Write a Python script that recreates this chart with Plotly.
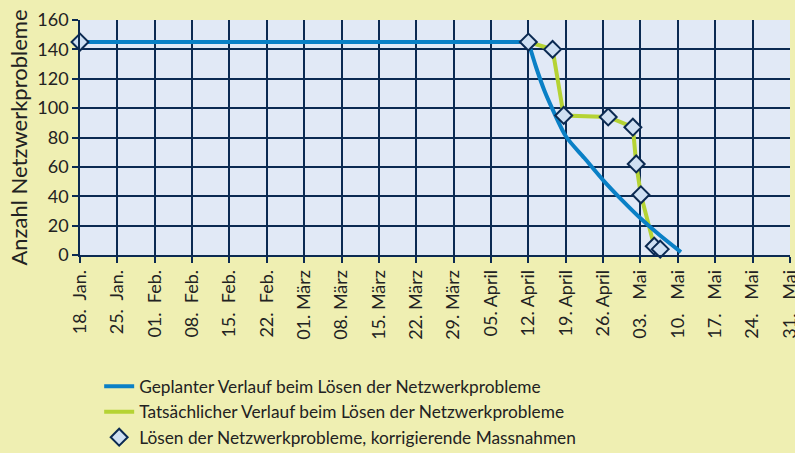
import plotly.graph_objects as go

# ---- data ----
tick_dates = ["2010-01-18", "2010-01-25", "2010-02-01", "2010-02-08", "2010-02-15",
              "2010-02-22", "2010-03-01", "2010-03-08", "2010-03-15", "2010-03-22",
              "2010-03-29", "2010-04-05", "2010-04-12", "2010-04-19", "2010-04-26",
              "2010-05-03", "2010-05-10", "2010-05-17", "2010-05-24", "2010-05-31"]
tick_labels = ["18.\u00a0\u00a0Jan.", "25.\u00a0\u00a0Jan.", "01.\u00a0\u00a0Feb.", "08.\u00a0\u00a0Feb.",
               "15.\u00a0\u00a0Feb.", "22.\u00a0\u00a0Feb.", "01. März", "08. März", "15. März",
               "22. März", "29. März", "05. April", "12. April", "19. April", "26. April",
               "03.\u00a0\u00a0\u00a0Mai", "10.\u00a0\u00a0\u00a0Mai", "17.\u00a0\u00a0\u00a0Mai",
               "24.\u00a0\u00a0\u00a0Mai", "31.\u00a0\u00a0\u00a0Mai"]
y_title = "Anzahl Netzwerkprobleme"

planned_flat_dates = ["2010-01-18", "2010-04-12"]
planned_flat_values = [145, 145]
planned_dates = ["2010-04-12 00:00", "2010-04-13 10:30", "2010-04-15 00:00", "2010-04-16 13:30",
                 "2010-04-19 02:00", "2010-04-22 12:00", "2010-04-26 00:00", "2010-04-29 12:00",
                 "2010-05-03 00:00", "2010-05-06 14:00", "2010-05-10 14:00"]
planned_values = [145, 128, 112, 99, 80.5, 66, 51, 37.5, 25, 13.6, 2]

actual_dates = ["2010-04-12 00:00", "2010-04-16 13:00", "2010-04-18 15:00", "2010-04-26 23:00",
                "2010-05-01 14:00", "2010-05-02 05:00", "2010-05-03 02:00", "2010-05-05 14:00",
                "2010-05-06 17:00"]
actual_values = [145, 140, 95, 94, 87, 62, 41, 6, 4]

marker_dates = ["2010-01-18"] + actual_dates
marker_values = [145] + actual_values

NAVY = "#0b2a52"
BLUE = "#0a80c6"
GREEN = "#b5d334"
TEXT = "#222222"
FONT = "Lato"

fig = go.Figure()
fig.add_trace(go.Scatter(x=planned_flat_dates, y=planned_flat_values, mode="lines",
                         line=dict(color=BLUE, width=4), legendgroup="p", showlegend=False,
                         hoverinfo="skip", cliponaxis=False))
fig.add_trace(go.Scatter(x=actual_dates, y=actual_values, mode="lines",
                         line=dict(color=GREEN, width=4), legendgroup="a", legendrank=2,
                         name="Tatsächlicher Verlauf beim Lösen der Netzwerkprobleme"))
fig.add_trace(go.Scatter(x=planned_dates, y=planned_values, mode="lines",
                         line=dict(color=BLUE, width=4, shape="spline", smoothing=0.8),
                         legendgroup="p", legendrank=1,
                         name="Geplanter Verlauf beim Lösen der Netzwerkprobleme"))
fig.add_trace(go.Scatter(x=marker_dates, y=marker_values, mode="markers",
                         marker=dict(symbol="diamond", size=13, color="#cfe0f3",
                                     line=dict(color=NAVY, width=2)),
                         legendgroup="m", legendrank=3, cliponaxis=False,
                         name="Lösen der Netzwerkprobleme, korrigierende Massnahmen"))

fig.update_layout(
    width=795, height=453,
    paper_bgcolor="#efefb2", plot_bgcolor="#e1e9f6",
    margin=dict(l=80, r=5, t=20, b=198, autoexpand=False),
    font=dict(family=FONT, color=TEXT, size=16),
    showlegend=True,
    legend=dict(x=0.027, y=-0.483, xanchor="left", yanchor="top",
                bgcolor="rgba(0,0,0,0)", font=dict(size=17.3, family=FONT),
                tracegroupgap=2, traceorder="normal", itemwidth=30),
    annotations=[dict(text=y_title, xref="paper", yref="paper", x=-0.0873, y=0.5,
                      xanchor="center", yanchor="middle", textangle=-90, showarrow=False,
                      font=dict(size=22, family=FONT, color=TEXT))],
)
fig.update_xaxes(
    type="date", range=["2010-01-18", "2010-05-31 00:30"],
    tickvals=tick_dates, ticktext=tick_labels, tickangle=-90,
    showgrid=True, gridcolor=NAVY, gridwidth=1.6,
    showline=True, linecolor=NAVY, linewidth=1.6,
    ticks="outside", ticklen=6, tickcolor=NAVY, tickwidth=1.6,
    tickfont=dict(size=18, family=FONT, color=TEXT),
    zeroline=False, automargin=False, ticklabeloverflow="allow",
)
fig.update_yaxes(
    range=[0, 160], dtick=20, tick0=0,
    showgrid=True, gridcolor=NAVY, gridwidth=1.6,
    showline=True, linecolor=NAVY, linewidth=1.6,
    ticks="outside", ticklen=6, tickcolor=NAVY, tickwidth=1.6,
    tickfont=dict(size=18, family=FONT, color=TEXT),
    zeroline=False, automargin=False,
)

fig.write_html("out.html", config={"displayModeBar": False},
               post_script="document.body.style.margin='0';")
